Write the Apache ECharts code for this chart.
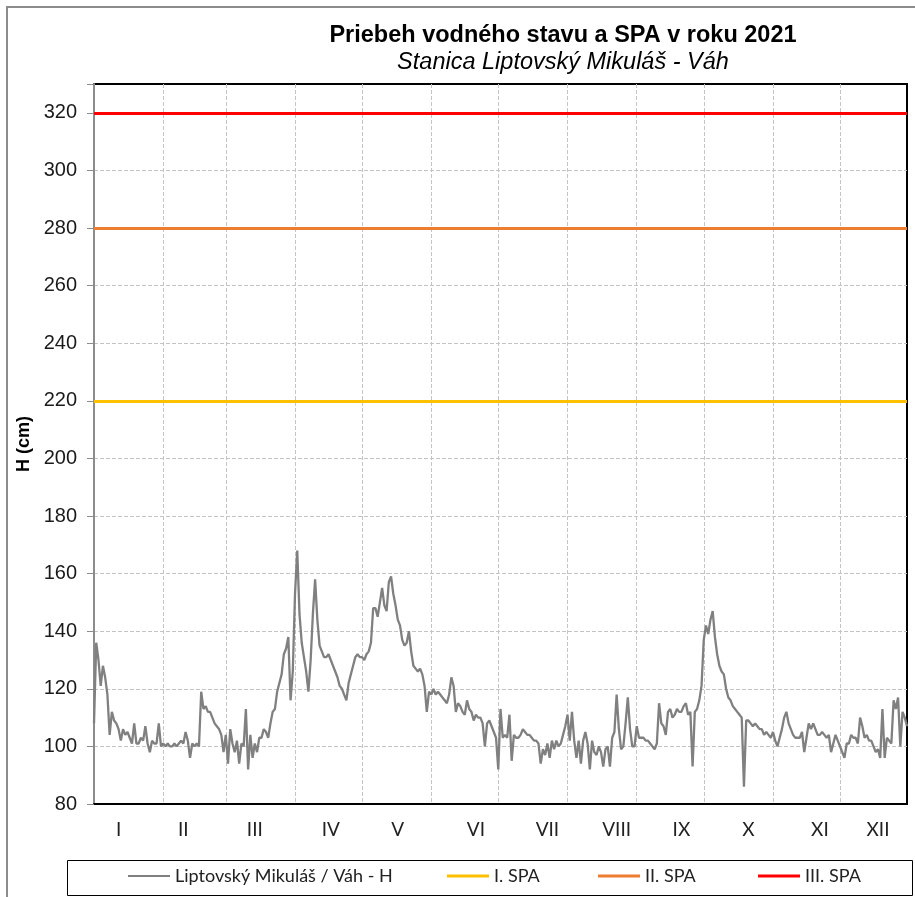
<!DOCTYPE html>
<html>
<head>
<meta charset="utf-8">
<script src="https://cdn.jsdelivr.net/npm/echarts@6/dist/echarts.min.js"></script>
<style>
  html, body { margin: 0; padding: 0; background: #fff; }
  #chart { width: 915px; height: 897px; }
</style>
</head>
<body>
<div id="chart"></div>
<script>
// month labels and where they sit (day of year)
const monthNames = ['I', 'II', 'III', 'IV', 'V', 'VI', 'VII', 'VIII', 'IX', 'X', 'XI', 'XII'];
const monthStarts = [0, 31, 59, 90, 120, 151, 181, 212, 243, 273, 304, 334];
const labelDays = [11, 40, 72, 106, 136, 171, 203, 234, 263, 293, 325, 351];

// daily water level H (cm)
const hJan = [108,136,130,121,128,124,118,104,112,109,108,106,102,106,104,105,103,101,108,101,101,103,102,107,101,98,102,101,101,108,100];
const hFeb = [101,100,101,100,100,101,100,101,102,101,105,102,96,101,100,101,100,119,113,114,112,112,110,108,107,106,104,98];
const hMar = [104,94,106,101,98,102,94,101,100,113,92,104,96,101,98,103,103,106,105,103,108,112,113,119,122,125,132,134,138,116,126];
const hApr = [153,168,146,136,131,126,119,130,146,158,144,135,133,131,131,132,130,128,126,124,121,120,118,116,122,125,128,131,132,131];
const hMay = [131,130,132,133,136,148,148,145,150,155,149,147,157,159,153,149,144,142,137,135,136,140,133,128,127,126,127,125,121,112,119];
const hJun = [118,120,118,119,118,117,116,115,118,124,121,112,115,114,112,111,116,113,112,109,111,110,110,108,100,108,109,107,105,103];
const hJul = [92,113,103,104,103,111,95,104,103,103,104,106,105,104,104,103,102,102,101,94,99,97,101,96,102,99,102,100,101,104,107];
const hAug = [111,102,112,102,96,102,94,102,105,101,92,102,98,97,100,98,93,99,100,93,103,105,118,106,99,100,108,117,106,100,100];
const hSep = [107,103,103,103,102,102,101,100,99,101,115,108,107,104,112,113,110,111,113,112,112,114,115,111,112,93,112,113,116,121];
const hOct = [137,142,139,144,147,138,132,128,126,125,120,117,116,114,113,112,111,110,86,109,109,108,107,108,107,106,106,104,105,104,103];
const hNov = [105,102,100,103,106,110,112,108,106,104,103,103,103,105,98,103,108,106,108,106,104,104,105,104,103,104,98,101,104,102];
const hDec = [100,98,96,101,101,104,103,103,101,110,107,103,104,102,102,100,98,99,96,113,96,103,102,101,116,113,117,100,112,110,107];

const levels = [].concat(hJan, hFeb, hMar, hApr, hMay, hJun, hJul, hAug, hSep, hOct, hNov, hDec);
const days = levels.map((v, i) => i);

// flood warning levels (SPA)
const spaNames = ['I. SPA', 'II. SPA', 'III. SPA'];
const spaLevels = [220, 280, 320];
const spaColors = ['#ffc000', '#ed7d31', '#ff0000'];

const seriesName = 'Liptovský Mikuláš / Váh - H';

let myChart = echarts.init(document.getElementById('chart'));

let series = [
  {
    name: seriesName,
    type: 'line',
    data: levels,
    showSymbol: false,
    symbol: 'none',
    color: '#808080',
    lineStyle: { color: '#808080', width: 2.3 },
    z: 3
  }
];
spaNames.forEach(function (n, i) {
  series.push({
    name: n,
    type: 'line',
    data: [],
    color: spaColors[i],
    lineStyle: { color: spaColors[i], width: 3 },
    markLine: {
      silent: true,
      symbol: ['none', 'none'],
      label: { show: false },
      lineStyle: { color: spaColors[i], width: 3, type: 'solid' },
      data: [{ yAxis: spaLevels[i] }]
    },
    z: 4
  });
});

// one legend per item so each sits where it does in the original
const legendLeft = [128, 447, 598, 758];
const legends = [seriesName].concat(spaNames).map(function (n, i) {
  return {
    data: [n],
    left: legendLeft[i],
    top: 867,
    padding: 0,
    icon: 'rect',
    itemWidth: 42,
    itemHeight: i === 0 ? 2 : 3,
    itemGap: 4,
    textStyle: { fontFamily: 'Lato', fontSize: 18, color: '#222' }
  };
});

let option = {
  animation: false,
  backgroundColor: '#fff',
  title: [
    {
      text: 'Priebeh vodného stavu a SPA v roku 2021',
      left: 558,
      top: 19,
      textAlign: 'center',
      textStyle: { fontFamily: 'Liberation Sans', fontSize: 23.5, fontWeight: 'bold', color: '#000' }
    },
    {
      text: 'Stanica Liptovský Mikuláš - Váh',
      left: 558,
      top: 46,
      textAlign: 'center',
      textStyle: { fontFamily: 'Liberation Sans', fontSize: 23.5, fontStyle: 'italic', fontWeight: 'normal', color: '#000' }
    }
  ],
  legend: legends,
  grid: {
    left: 94,
    right: 8,
    top: 84,
    bottom: 93,
    show: true,
    borderColor: '#000',
    borderWidth: 2
  },
  xAxis: {
    type: 'category',
    boundaryGap: false,
    data: days,
    axisLine: { lineStyle: { color: '#000', width: 2 } },
    axisTick: { show: false },
    axisLabel: {
      interval: 0,
      margin: 16,
      fontFamily: 'Lato',
      fontSize: 19,
      color: '#222',
      formatter: function (v, idx) {
        let k = labelDays.indexOf(idx);
        return k >= 0 ? monthNames[k] : '';
      }
    },
    splitLine: {
      show: true,
      interval: function (idx) { return monthStarts.indexOf(idx) > 0; },
      lineStyle: { color: '#c4c4c4', type: 'dashed', width: 1 }
    }
  },
  yAxis: {
    type: 'value',
    min: 80,
    max: 330,
    interval: 20,
    name: 'H (cm)',
    nameLocation: 'middle',
    nameRotate: 90,
    nameGap: 58,
    nameTextStyle: { fontFamily: 'Liberation Sans', fontSize: 18, fontWeight: 'bold', color: '#000' },
    axisLine: { show: true, lineStyle: { color: '#8c8c8c', width: 2 } },
    axisTick: { show: true, length: 7, lineStyle: { color: '#8c8c8c' } },
    axisLabel: {
      margin: 17,
      fontFamily: 'Liberation Sans',
      fontSize: 20,
      color: '#1a1a1a',
      formatter: function (v) { return v > 320 ? '' : v; }
    },
    splitLine: {
      showMinLine: false,
      showMaxLine: false,
      lineStyle: { color: '#c4c4c4', type: 'dashed', width: 1 }
    }
  },
  graphic: [
    {
      type: 'rect',
      shape: { x: 7, y: 7, width: 940, height: 940 },
      style: { fill: 'none', stroke: '#8c8c8c', lineWidth: 2 },
      silent: true
    },
    {
      type: 'rect',
      shape: { x: 67.5, y: 860.5, width: 845, height: 35 },
      style: { fill: 'none', stroke: '#000', lineWidth: 1 },
      silent: true
    }
  ],
  series: series
};

myChart.setOption(option);
window.addEventListener('resize', function () {
  myChart.resize();
});
</script>
</body>
</html>
